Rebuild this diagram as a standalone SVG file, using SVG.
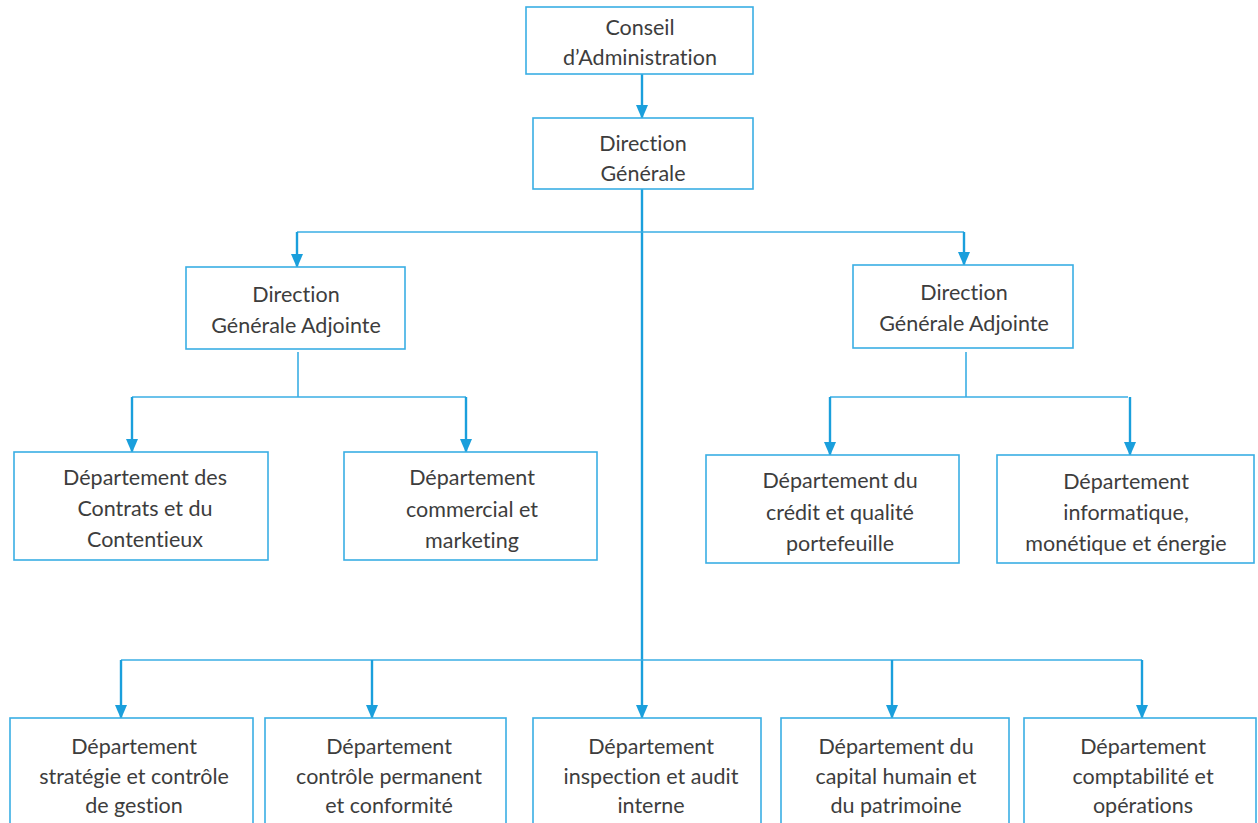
<svg xmlns="http://www.w3.org/2000/svg" width="1258" height="823" viewBox="0 0 1258 823">
<defs>
<marker id="ah" viewBox="0 0 14 12" refX="13" refY="6" markerWidth="14" markerHeight="12" markerUnits="userSpaceOnUse" orient="auto">
<path d="M0,0 L14,6 L0,12 Z" fill="#1a9fdc"/>
</marker>
<style>
.box{fill:#fff;stroke:#3aaee4;stroke-width:1.6}
.t{font-family:Lato,"Open Sans",sans-serif;font-size:21.5px;fill:#3d3d3d;text-anchor:middle;font-variant-ligatures:none}
.a{stroke:#1a9fdc;stroke-width:2.4;fill:none}
.h{stroke:#3aaee4;stroke-width:1.6;fill:none}
</style>
</defs>
<rect width="1258" height="823" fill="#fff"/>
<g id="connectors">
<line class="a" x1="642" y1="74" x2="642" y2="118" marker-end="url(#ah)"/>
<line class="a" x1="642" y1="189" x2="642" y2="718" marker-end="url(#ah)"/>
<polyline class="h" points="297,232 964,232"/>
<line class="a" x1="297" y1="232" x2="297" y2="267" marker-end="url(#ah)"/>
<line class="a" x1="964" y1="232" x2="964" y2="265" marker-end="url(#ah)"/>
<line class="h" x1="298" y1="352" x2="298" y2="397"/>
<polyline class="h" points="132,397 466,397"/>
<line class="a" x1="132" y1="397" x2="132" y2="452" marker-end="url(#ah)"/>
<line class="a" x1="466" y1="397" x2="466" y2="452" marker-end="url(#ah)"/>
<line class="h" x1="966" y1="352" x2="966" y2="397"/>
<polyline class="h" points="830,397 1128,397"/>
<line class="a" x1="830" y1="397" x2="830" y2="455" marker-end="url(#ah)"/>
<line class="a" x1="1130" y1="397" x2="1130" y2="455" marker-end="url(#ah)"/>
<polyline class="h" points="121,660 1142,660"/>
<line class="a" x1="121" y1="660" x2="121" y2="718" marker-end="url(#ah)"/>
<line class="a" x1="372" y1="660" x2="372" y2="718" marker-end="url(#ah)"/>
<line class="a" x1="892" y1="660" x2="892" y2="718" marker-end="url(#ah)"/>
<line class="a" x1="1142" y1="660" x2="1142" y2="718" marker-end="url(#ah)"/>
</g>
<g id="conseil">
<rect class="box" x="526" y="7" width="227" height="67"/>
<text class="t" x="640" y="35">Conseil</text>
<text class="t" x="640" y="65">d’Administration</text>
</g>
<g id="dg">
<rect class="box" x="533" y="118" width="220" height="71"/>
<text class="t" x="643" y="151">Direction</text>
<text class="t" x="643" y="181">Générale</text>
</g>
<g id="dga-left">
<rect class="box" x="186" y="267" width="219" height="82"/>
<text class="t" x="296" y="302">Direction</text>
<text class="t" x="296" y="333">Générale Adjointe</text>
</g>
<g id="dga-right">
<rect class="box" x="853" y="265" width="220" height="83"/>
<text class="t" x="964" y="300">Direction</text>
<text class="t" x="964" y="331">Générale Adjointe</text>
</g>
<g id="dep-contrats">
<rect class="box" x="14" y="452" width="254" height="108"/>
<text class="t" x="145" y="485">Département des</text>
<text class="t" x="145" y="516">Contrats et du</text>
<text class="t" x="145" y="547">Contentieux</text>
</g>
<g id="dep-commercial">
<rect class="box" x="344" y="452" width="253" height="108"/>
<text class="t" x="472" y="485">Département</text>
<text class="t" x="472" y="517">commercial et</text>
<text class="t" x="472" y="548">marketing</text>
</g>
<g id="dep-credit">
<rect class="box" x="706" y="455" width="253" height="108"/>
<text class="t" x="840" y="488">Département du</text>
<text class="t" x="840" y="520">crédit et qualité</text>
<text class="t" x="840" y="551">portefeuille</text>
</g>
<g id="dep-informatique">
<rect class="box" x="997" y="455" width="257" height="108"/>
<text class="t" x="1126" y="489">Département</text>
<text class="t" x="1126" y="520">informatique,</text>
<text class="t" x="1126" y="551">monétique et énergie</text>
</g>
<g id="dep-strategie">
<rect class="box" x="10" y="718" width="243" height="110"/>
<text class="t" x="134" y="754">Département</text>
<text class="t" x="134" y="784">stratégie et contrôle</text>
<text class="t" x="134" y="813">de gestion</text>
</g>
<g id="dep-controle">
<rect class="box" x="265" y="718" width="241" height="110"/>
<text class="t" x="389" y="754">Département</text>
<text class="t" x="389" y="784">contrôle permanent</text>
<text class="t" x="389" y="813">et conformité</text>
</g>
<g id="dep-inspection">
<rect class="box" x="533" y="718" width="228" height="110"/>
<text class="t" x="651" y="754">Département</text>
<text class="t" x="651" y="784">inspection et audit</text>
<text class="t" x="651" y="813">interne</text>
</g>
<g id="dep-capital">
<rect class="box" x="781" y="718" width="228" height="110"/>
<text class="t" x="896" y="754">Département du</text>
<text class="t" x="896" y="784">capital humain et</text>
<text class="t" x="896" y="813">du patrimoine</text>
</g>
<g id="dep-comptabilite">
<rect class="box" x="1024" y="718" width="232" height="110"/>
<text class="t" x="1143" y="754">Département</text>
<text class="t" x="1143" y="784">comptabilité et</text>
<text class="t" x="1143" y="813">opérations</text>
</g>
</svg>
